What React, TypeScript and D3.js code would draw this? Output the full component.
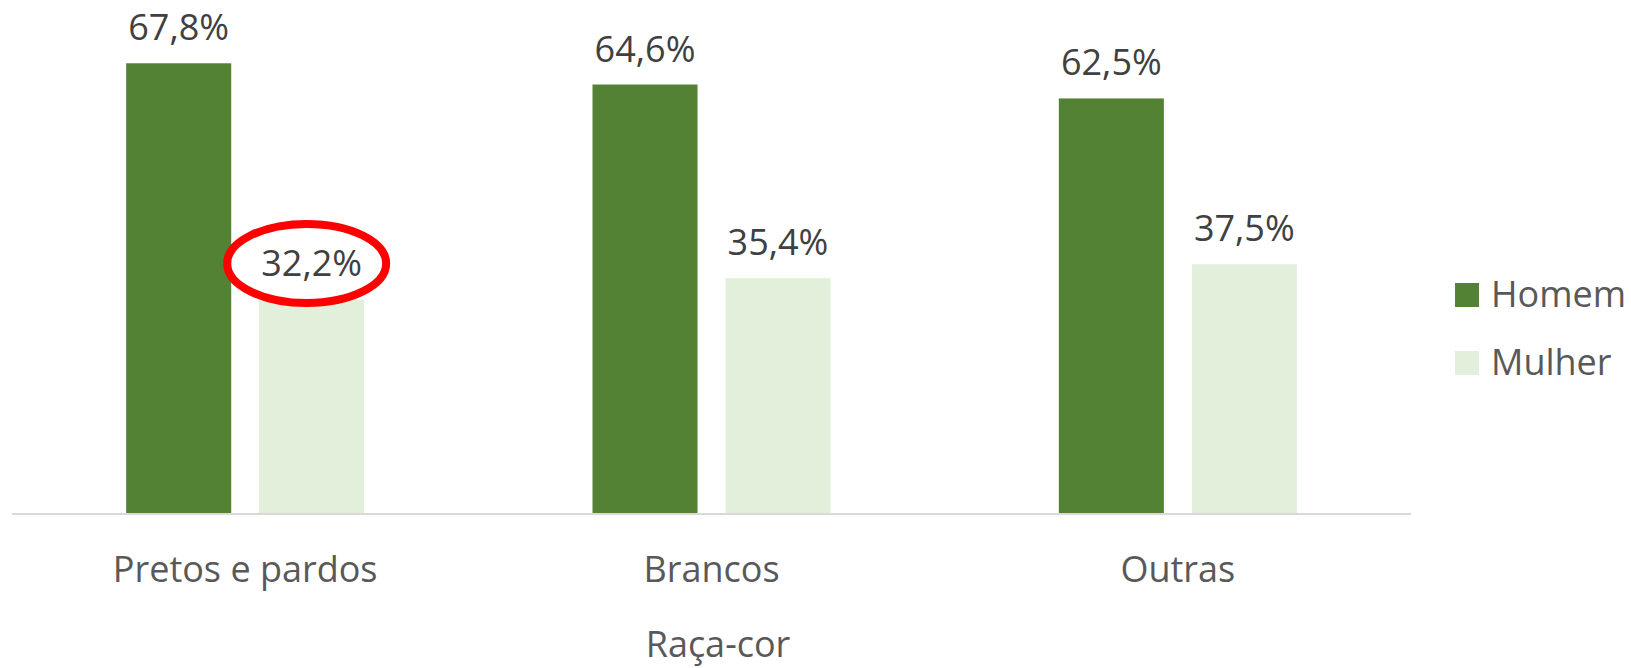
import React, { useEffect, useRef } from "react";
import * as d3 from "d3";

// chart data
const categories = ["Pretos e pardos", "Brancos", "Outras"];
const seriesNames = ["Homem", "Mulher"];
const homemValues = [67.8, 64.6, 62.5];
const mulherValues = [32.2, 35.4, 37.5];
const seriesColors = ["#548235", "#E2EFDA"];
const axisTitle = "Raça-cor";
const highlighted = { category: "Pretos e pardos", series: "Mulher" };

const App = () => {
  const svgRef: any = useRef();

  useEffect(() => {
    const svg = d3.select(svgRef?.current);
    svg.selectAll("*").remove();
    const width = 1631;
    const height = 668;
    const margin = { top: 0, right: 220, bottom: 155, left: 12 };
    const font = "'Open Sans', 'Noto Sans', sans-serif";
    svg.attr("width", width).attr("height", height);

    const data = categories.map((c, i) => ({
      category: c,
      values: [
        { series: seriesNames[0], value: homemValues[i] },
        { series: seriesNames[1], value: mulherValues[i] },
      ],
    }));

    // Scales
    const x0 = d3
      .scaleBand()
      .domain(categories)
      .range([margin.left, 1411]);
    const x1 = d3
      .scaleBand()
      .domain(seriesNames)
      .range([x0.bandwidth() / 2 - 119, x0.bandwidth() / 2 + 119])
      .paddingInner(0.21);
    const y = d3.scaleLinear().domain([0, 70]).range([513, 513 - 70 * 6.633]);
    const color = d3.scaleOrdinal<string>().domain(seriesNames).range(seriesColors);

    const groups = svg
      .selectAll(".group")
      .data(data)
      .join("g")
      .attr("class", "group")
      .attr("transform", (d) => `translate(${x0(d.category)},0)`);

    groups
      .selectAll(".bar")
      .data((d) => d.values)
      .join("rect")
      .attr("class", "bar")
      .attr("x", (d: any) => x1(d.series))
      .attr("y", (d: any) => y(d.value))
      .attr("width", x1.bandwidth())
      .attr("height", (d: any) => y(0) - y(d.value))
      .attr("fill", (d: any) => color(d.series));

    groups
      .selectAll(".label")
      .data((d) => d.values)
      .join("text")
      .attr("class", "label")
      .attr("x", (d: any) => x1(d.series) + x1.bandwidth() / 2)
      .attr("y", (d: any) => y(d.value) - 23)
      .attr("text-anchor", "middle")
      .attr("font-family", font)
      .attr("font-size", 36)
      .attr("fill", "#404040")
      .text((d: any) => `${d.value.toFixed(1).replace(".", ",")}%`);

    // axis line
    svg
      .append("line")
      .attr("x1", x0.range()[0])
      .attr("x2", x0.range()[1])
      .attr("y1", y(0) + 1)
      .attr("y2", y(0) + 1)
      .attr("stroke", "#d9d9d9")
      .attr("stroke-width", 2);

    // category labels
    svg
      .selectAll(".cat")
      .data(categories)
      .join("text")
      .attr("class", "cat")
      .attr("x", (d) => x0(d) + x0.bandwidth() / 2)
      .attr("y", 582)
      .attr("text-anchor", "middle")
      .attr("font-family", font)
      .attr("font-size", 36)
      .attr("fill", "#595959")
      .text((d) => d);

    svg
      .append("text")
      .attr("x", 718)
      .attr("y", 657)
      .attr("text-anchor", "middle")
      .attr("font-family", font)
      .attr("font-size", 36)
      .attr("fill", "#595959")
      .text(axisTitle);

    // legend
    const legend = svg
      .selectAll(".legend")
      .data(seriesNames)
      .join("g")
      .attr("class", "legend")
      .attr("transform", (d, i) => `translate(1455,${283 + i * 68})`);
    legend
      .append("rect")
      .attr("width", 24)
      .attr("height", 24)
      .attr("fill", (d) => color(d));
    legend
      .append("text")
      .attr("x", 36)
      .attr("y", 24)
      .attr("font-family", font)
      .attr("font-size", 36)
      .attr("fill", "#595959")
      .text((d) => d);

    // red highlight around the label
    const hi = data.find((d) => d.category === highlighted.category);
    const hv = hi.values.find((v) => v.series === highlighted.series);
    svg
      .append("ellipse")
      .attr("cx", x0(hi.category) + x1(hv.series) + x1.bandwidth() / 2 - 5)
      .attr("cy", y(hv.value) - 36)
      .attr("rx", 79.5)
      .attr("ry", 39.5)
      .attr("fill", "none")
      .attr("stroke", "#ff0000")
      .attr("stroke-width", 8);
  }, []);

  return (
    <svg
      ref={svgRef}
      style={{ position: "absolute", left: 0, top: 0, background: "#fff" }}
    ></svg>
  );
};

export default App;
